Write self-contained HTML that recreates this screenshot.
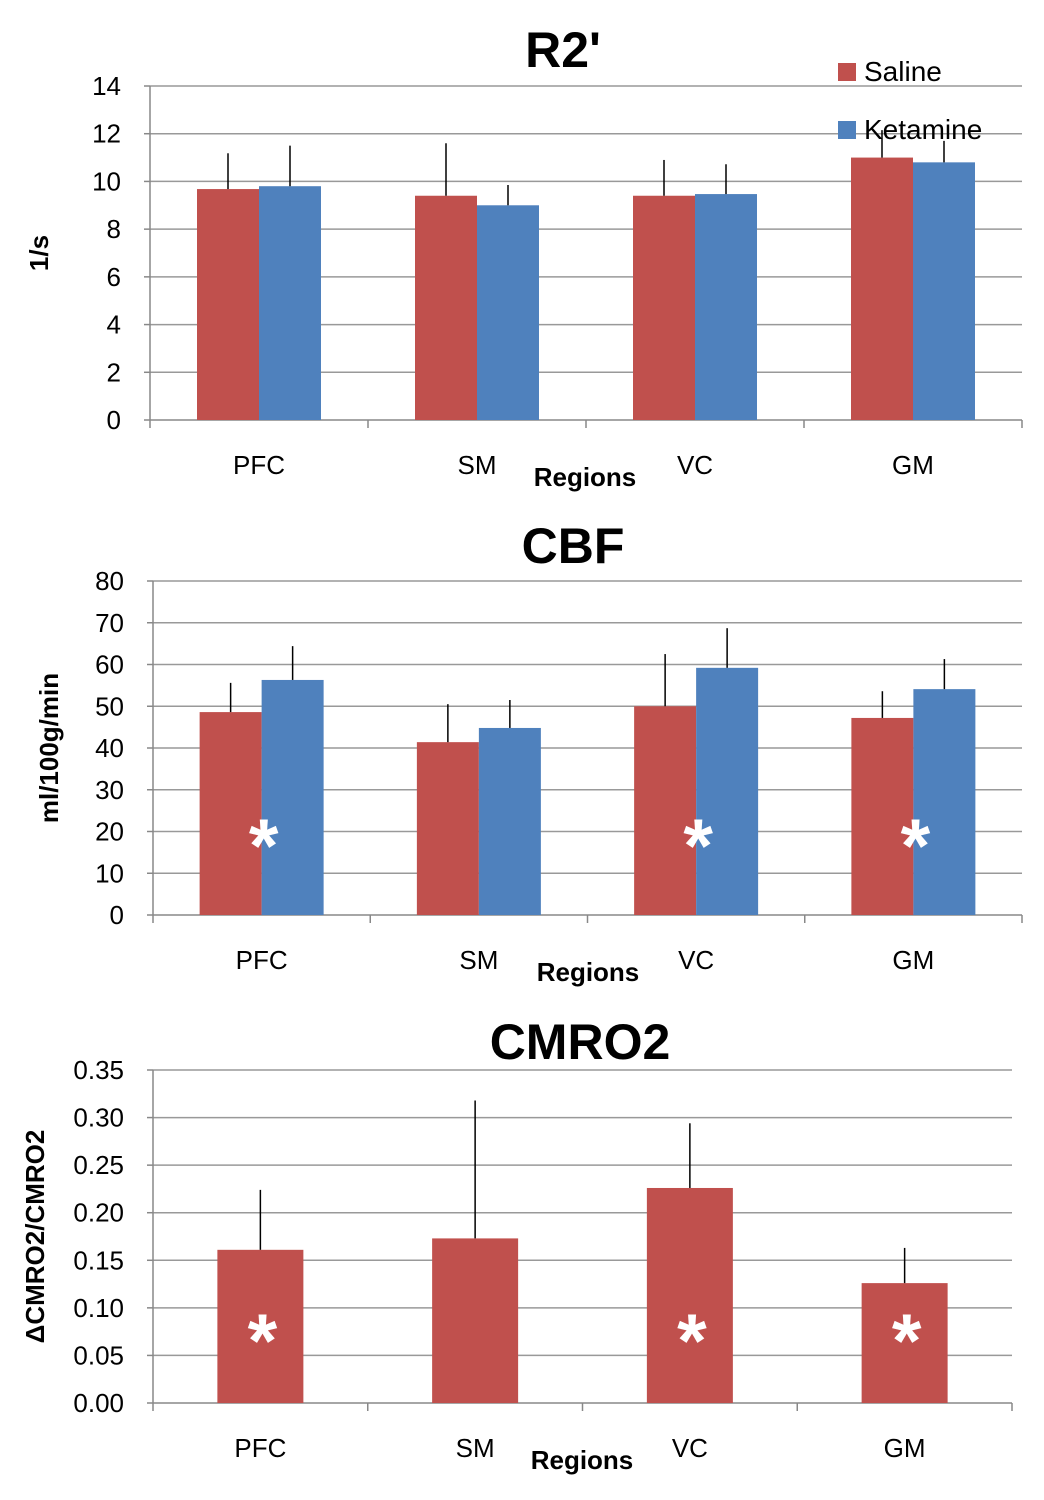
<!DOCTYPE html>
<html><head><meta charset="utf-8">
<style>
html,body{margin:0;padding:0;background:#fff;}
svg{display:block;font-family:"Liberation Sans",sans-serif;}
</style></head>
<body>
<svg id="chart" width="1044" height="1500" viewBox="0 0 1044 1500"></svg>
<script>
const categories = ["PFC","SM","VC","GM"];
// R2'
const r2Saline = [9.68, 9.4, 9.4, 11.0];
const r2SalineErr = [1.5, 2.2, 1.5, 1.15];
const r2Ketamine = [9.8, 9.0, 9.47, 10.8];
const r2KetamineErr = [1.7, 0.85, 1.25, 0.9];
const r2Ticks = ["0","2","4","6","8","10","12","14"];
// CBF
const cbfSaline = [48.6, 41.4, 50.0, 47.2];
const cbfSalineErr = [7.0, 9.1, 12.5, 6.4];
const cbfKetamine = [56.3, 44.8, 59.2, 54.1];
const cbfKetamineErr = [8.1, 6.7, 9.5, 7.2];
const cbfTicks = ["0","10","20","30","40","50","60","70","80"];
const cbfStars = [true, false, true, true];
// CMRO2
const cmroSaline = [0.161, 0.173, 0.226, 0.126];
const cmroSalineErr = [0.063, 0.145, 0.068, 0.037];
const cmroTicks = ["0.00","0.05","0.10","0.15","0.20","0.25","0.30","0.35"];
const cmroStars = [true, false, true, true];

const NS = "http://www.w3.org/2000/svg";
const svg = document.getElementById("chart");
function el(tag, attrs, parent, text){
  const e = document.createElementNS(NS, tag);
  for (const k in attrs) e.setAttribute(k, attrs[k]);
  if (text !== undefined) e.textContent = text;
  (parent || svg).appendChild(e);
  return e;
}
const RED = "#C0504D", BLUE = "#4F81BD";

function panel(cfg){
  const g = el("g", {});
  
  
  const ymax = parseFloat(cfg.ticks[cfg.ticks.length-1]);
  const y = v => cfg.y0 - (v / ymax) * (cfg.y0 - cfg.y1);
  const cw = (cfg.x1 - cfg.x0) / categories.length;
  const xc = i => cfg.x0 + cw * (i + 0.5);
  cfg.ticks.forEach(t => {
    const v = parseFloat(t), yy = y(v);
    const gl = el("line", {x1:cfg.x0, x2:cfg.x1, y1:yy, y2:yy, stroke: v===0 ? "#888" : "#999", "stroke-width":1.5}, g);
    
    
    el("line", {x1:cfg.x0-6, x2:cfg.x0, y1:yy, y2:yy, stroke:"#888", "stroke-width":1.5}, g);
    const tl = el("text", {x:cfg.x0-29, y:yy+9, "text-anchor":"end", "font-size":26, fill:"#000"}, g, t);
    
    
  });
  el("line", {x1:cfg.x0, x2:cfg.x0, y1:cfg.y1, y2:cfg.y0, stroke:"#888", "stroke-width":1.5}, g);
  for (let i=0;i<=categories.length;i++){
    const xx = cfg.x0 + cw*i;
    el("line", {x1:xx, x2:xx, y1:cfg.y0, y2:cfg.y0+8, stroke:"#888", "stroke-width":1.5}, g);
  }
  cfg.series.forEach((s, si) => {
    s.values.forEach((v, i) => {
      const n = cfg.series.length;
      const bx = n === 2 ? xc(i) - cfg.bw + si*cfg.bw : xc(i) - cfg.bw/2;
      const r = el("rect", {x:bx, y:y(v), width:cfg.bw, height:cfg.y0 - y(v), fill:s.color}, g);
      
      
      const ex = bx + cfg.bw/2;
      const e = el("line", {x1:ex, x2:ex, y1:y(v), y2:y(v + s.err[i]), stroke:"#000", "stroke-width":1.5}, g);
      
      
    });
  });
  if (cfg.stars) cfg.stars.forEach((st, i) => {
    if (!st) return;
    const s = el("text", {x:xc(i)+2, y:cfg.starY, "text-anchor":"middle", "font-size":76, "font-weight":"bold", fill:"#fff"}, g, "*");
    
    
  });
  categories.forEach((c, i) => {
    const t = el("text", {x:xc(i), y:cfg.y0+54, "text-anchor":"middle", "font-size":26, fill:"#000"}, g, c);
    
    
  });
  const xt = el("text", {x:cfg.regX, y:cfg.y0+66, "text-anchor":"middle", "font-size":26, "font-weight":"bold"}, g, "Regions");
  
  
  const tt = el("text", {x:cfg.titleX, y:cfg.titleY, "text-anchor":"middle", "font-size":50, "font-weight":"bold"}, g, cfg.title);
  
  
  const yt = el("text", {x:0, y:0, "text-anchor":"middle", "font-size":26, "font-weight":"bold", transform:`translate(${cfg.ylabX},${(cfg.y0+cfg.y1)/2}) rotate(-90)`}, g, cfg.ylabel);
  
  
}

panel({name:"r2-chart", title:"R2'", titleX:563, titleY:67, x0:150, x1:1022, y0:420, y1:86, bw:62, ticks:r2Ticks,
  ylabel:"1/s", ylabX:48, regX:585,
  series:[{key:"saline", values:r2Saline, err:r2SalineErr, color:RED},{key:"ketamine", values:r2Ketamine, err:r2KetamineErr, color:BLUE}]});
panel({name:"cbf-chart", title:"CBF", titleX:573, titleY:563, x0:153, x1:1022, y0:915, y1:581, bw:62, ticks:cbfTicks,
  ylabel:"ml/100g/min", ylabX:58, regX:588, stars:cbfStars, starY:872,
  series:[{key:"saline", values:cbfSaline, err:cbfSalineErr, color:RED},{key:"ketamine", values:cbfKetamine, err:cbfKetamineErr, color:BLUE}]});
panel({name:"cmro2-chart", title:"CMRO2", titleX:580, titleY:1059, x0:153, x1:1012, y0:1403, y1:1070, bw:86, ticks:cmroTicks,
  ylabel:"ΔCMRO2/CMRO2", ylabX:44, regX:582, stars:cmroStars, starY:1367,
  series:[{key:"saline", values:cmroSaline, err:cmroSalineErr, color:RED}]});

const lg = el("g", {});


const l1 = el("rect", {x:838, y:63, width:18, height:18, fill:RED}, lg);


const t1 = el("text", {x:864, y:81, "font-size":28}, lg, "Saline");


const l2 = el("rect", {x:838, y:121, width:18, height:18, fill:BLUE}, lg);


const t2 = el("text", {x:864, y:139, "font-size":28}, lg, "Ketamine");


</script>
</body></html>
